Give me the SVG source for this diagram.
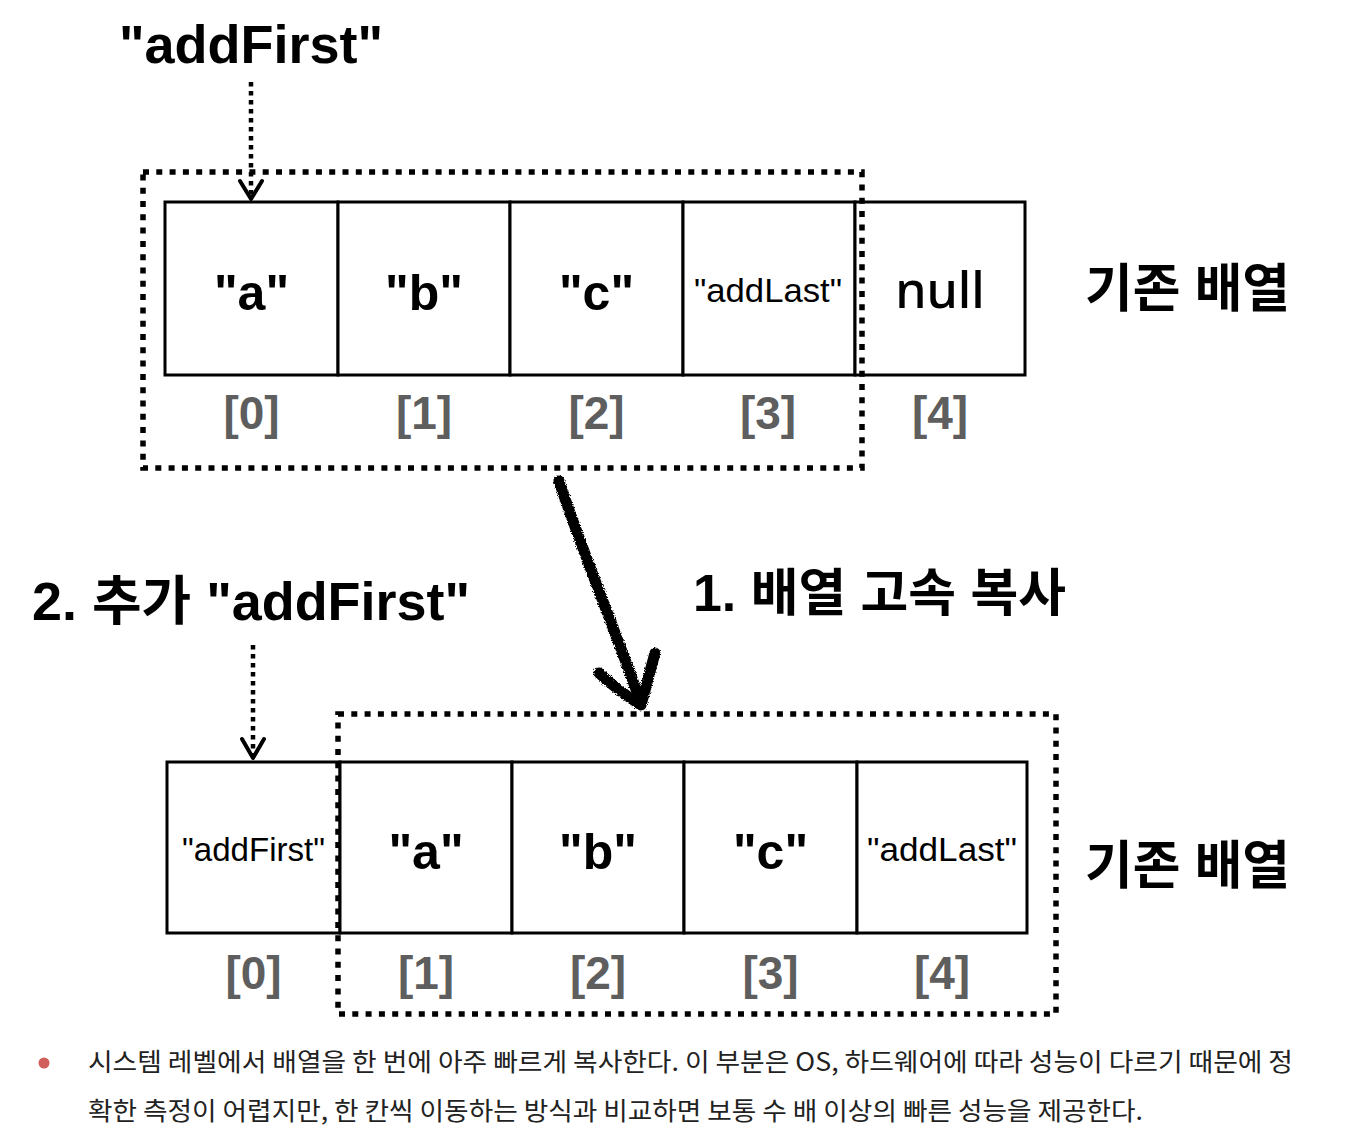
<svg xmlns="http://www.w3.org/2000/svg" width="1354" height="1148" viewBox="0 0 1354 1148">
<style>
.cell{fill:#fff;stroke:#000;stroke-width:3}
.box{fill:none;stroke:#000;stroke-width:5.5;stroke-dasharray:6 7.3}
.dot{fill:none;stroke:#000;stroke-width:4.5;stroke-dasharray:4.5 4.5}
.head{fill:none;stroke:#000;stroke-width:4;stroke-linecap:round;stroke-linejoin:round}
.big{font-family:"Liberation Sans","Noto Sans CJK KR",sans-serif;font-weight:bold;font-size:50px;fill:#000;text-anchor:middle}
.mid{font-family:"Liberation Sans",sans-serif;font-size:33px;fill:#000;text-anchor:middle}
.idx{font-family:"Liberation Sans",sans-serif;font-weight:bold;font-size:46px;fill:#5e5e5e;text-anchor:middle}
.kr{font-family:"Liberation Sans","Noto Sans CJK KR",sans-serif;font-weight:bold;font-size:52px;fill:#000}
.para{font-family:"Noto Sans CJK KR",sans-serif;font-size:25px;fill:#222}
.hand{fill:none;stroke:#000;stroke-width:11;stroke-linecap:round;stroke-linejoin:round}
</style>
<defs>
<filter id="rough" x="-20%" y="-20%" width="140%" height="140%">
<feTurbulence type="fractalNoise" baseFrequency="0.9" numOctaves="2" seed="3" result="n"/>
<feDisplacementMap in="SourceGraphic" in2="n" scale="4" xChannelSelector="R" yChannelSelector="G"/>
</filter>
</defs>
<rect width="1354" height="1148" fill="#fff"/>

<g id="label-addFirst-top"><text class="kr" x="251" y="63" text-anchor="middle" style="font-size:54px">"addFirst"</text></g>

<g id="top-array">
<g id="top-cell-0"><rect class="cell" x="165" y="202" width="173" height="173"/><text class="big" x="251.5" y="310">"a"</text><text class="idx" x="251.5" y="429">[0]</text></g>
<g id="top-cell-1"><rect class="cell" x="338" y="202" width="172" height="173"/><text class="big" x="424" y="310">"b"</text><text class="idx" x="424" y="429">[1]</text></g>
<g id="top-cell-2"><rect class="cell" x="510" y="202" width="173" height="173"/><text class="big" x="596.5" y="310">"c"</text><text class="idx" x="596.5" y="429">[2]</text></g>
<g id="top-cell-3"><rect class="cell" x="683" y="202" width="172" height="173"/><text class="mid" x="768" y="302" style="font-size:34px" textLength="148" lengthAdjust="spacingAndGlyphs">"addLast"</text><text class="idx" x="768" y="429">[3]</text></g>
<g id="top-cell-4"><rect class="cell" x="855" y="202" width="170" height="173"/><text class="mid" x="940" y="308" style="font-family:'Noto Sans','Liberation Sans',sans-serif;font-weight:500;font-size:50px">null</text><text class="idx" x="940" y="429">[4]</text></g>
</g>
<g id="label-existing-top"><text class="kr" x="1085" y="307" textLength="205" lengthAdjust="spacingAndGlyphs">기존 배열</text></g>
<g id="top-copy-box"><rect class="box" x="143" y="172" width="719" height="296"/></g>

<g id="label-step2"><text class="kr" x="32" y="620" style="font-size:53px" textLength="438" lengthAdjust="spacingAndGlyphs">2. 추가 "addFirst"</text></g>
<g id="label-step1"><text class="kr" x="693" y="611" style="font-size:51px" textLength="373" lengthAdjust="spacingAndGlyphs">1. 배열 고속 복사</text></g>

<g id="bottom-array">
<g id="bottom-cell-0"><rect class="cell" x="167" y="762" width="173" height="171"/><text class="mid" x="253.5" y="861" textLength="143" lengthAdjust="spacingAndGlyphs">"addFirst"</text><text class="idx" x="253.5" y="989">[0]</text></g>
<g id="bottom-cell-1"><rect class="cell" x="340" y="762" width="172" height="171"/><text class="big" x="426" y="869">"a"</text><text class="idx" x="426" y="989">[1]</text></g>
<g id="bottom-cell-2"><rect class="cell" x="512" y="762" width="172" height="171"/><text class="big" x="598" y="869">"b"</text><text class="idx" x="598" y="989">[2]</text></g>
<g id="bottom-cell-3"><rect class="cell" x="684" y="762" width="173" height="171"/><text class="big" x="770.5" y="869">"c"</text><text class="idx" x="770.5" y="989">[3]</text></g>
<g id="bottom-cell-4"><rect class="cell" x="857" y="762" width="170" height="171"/><text class="mid" x="942" y="861" textLength="150" lengthAdjust="spacingAndGlyphs">"addLast"</text><text class="idx" x="942" y="989">[4]</text></g>
</g>
<g id="label-existing-bottom"><text class="kr" x="1085" y="884" textLength="205" lengthAdjust="spacingAndGlyphs">기존 배열</text></g>
<g id="bottom-copy-box"><rect class="box" x="338" y="714" width="718" height="300"/></g>

<g id="connectors">
<line class="dot" x1="251" y1="82" x2="251" y2="196"/>
<polyline class="head" points="240,181 251,199 262,181"/>
<line class="dot" x1="253" y1="645" x2="253" y2="755"/>
<polyline class="head" points="242,739 253,758 264,739"/>
<g filter="url(#rough)">
<path class="hand" d="M559,481 C580,545 615,630 641,703"/>
<path class="hand" d="M599,673 C615,688 628,697 641,705 C645,690 650,672 655,653"/>
</g>
</g>

<g id="description">
<circle cx="44" cy="1063" r="5.5" fill="#d05f5c"/>
<text class="para" x="88" y="1071" textLength="1205" lengthAdjust="spacingAndGlyphs">시스템 레벨에서 배열을 한 번에 아주 빠르게 복사한다. 이 부분은 OS, 하드웨어에 따라 성능이 다르기 때문에 정</text>
<text class="para" x="88" y="1120" textLength="1055" lengthAdjust="spacingAndGlyphs">확한 측정이 어렵지만, 한 칸씩 이동하는 방식과 비교하면 보통 수 배 이상의 빠른 성능을 제공한다.</text>
</g>
</svg>
